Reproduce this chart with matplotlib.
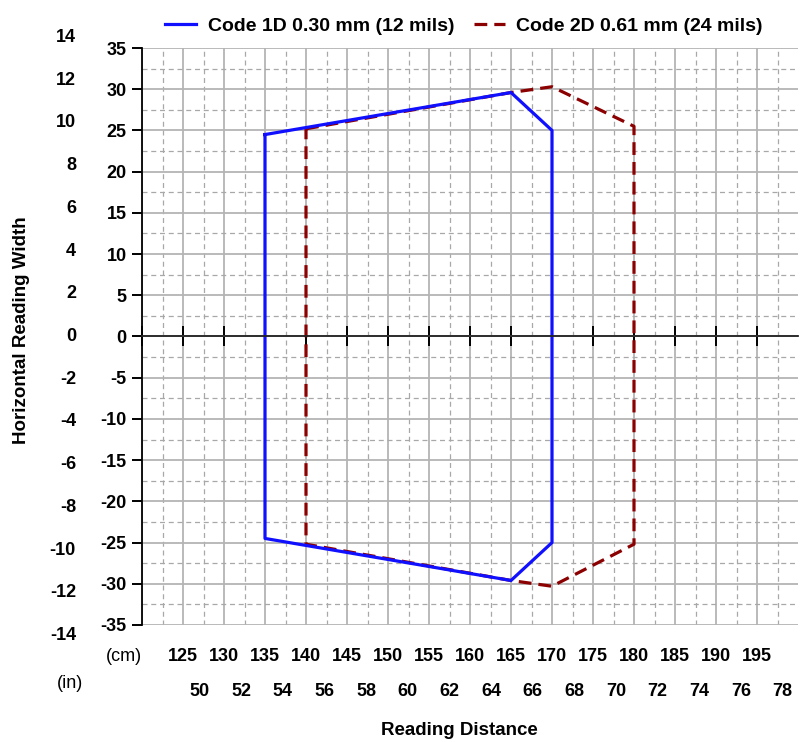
import numpy as np
import matplotlib
matplotlib.use("Agg")
import matplotlib.pyplot as plt
from matplotlib.transforms import blended_transform_factory

plt.rcParams['font.family'] = ['Liberation Sans', 'DejaVu Sans']
plt.rcParams['font.weight'] = 'bold'
plt.rcParams['axes.unicode_minus'] = False

# reading zones (cm)
code1d_x = [135, 165, 170, 170, 165, 135, 135]
code1d_y = [24.5, 29.6, 25, -25, -29.6, -24.5, 24.5]
code2d_x = [140, 165, 170, 180, 180, 170, 165, 140, 140]
code2d_y = [25.2, 29.6, 30.3, 25.5, -25.2, -30.3, -29.6, -25.2, 25.2]

cm_ticks = list(range(125, 200, 5))
in_ticks = list(range(50, 80, 2))
width_in_ticks = list(range(-14, 15, 2))
width_cm_ticks = list(range(-35, 36, 5))

fig = plt.figure(figsize=(8, 7.42), dpi=100)
ax = fig.add_axes([0.1775, 0.1577, 0.82, 0.7776])

ax.set_xlim(120, 200)
ax.set_ylim(-35, 35)

ax.set_xticks(np.arange(120, 200, 5))
ax.set_xticks(np.arange(122.5, 200, 5), minor=True)
ax.set_yticks(width_cm_ticks)
ax.set_yticks(np.arange(-32.5, 35, 5), minor=True)

ax.grid(which='major', color='#b4b4b4', lw=1.3, ls='-', zorder=0)
ax.grid(which='minor', color='#a8a8a8', lw=0.9, ls=(0, (4, 3)), zorder=0)

for s in ['top', 'right']:
    ax.spines[s].set_visible(False)
ax.spines['left'].set_color('black')
ax.spines['left'].set_linewidth(1.3)
ax.spines['bottom'].set_position(('data', 0))
ax.spines['bottom'].set_color('#222222')
ax.spines['bottom'].set_linewidth(1.3)
ax.spines['bottom'].set_zorder(5)

ax.tick_params(axis='x', which='major', direction='inout', length=15, width=1.4,
               labelbottom=False, color='black')
ax.tick_params(axis='y', which='major', direction='out', length=7, width=1.4,
               labelsize=13, pad=4)
ax.tick_params(which='minor', length=0)
for lbl in ax.get_yticklabels():
    lbl.set_fontweight('bold')

ax.plot(code2d_x, code2d_y, color='#8b0000', lw=2.3, dashes=(4, 2.2),
        label='Code 2D 0.61 mm (24 mils)', zorder=3)
ax.plot(code1d_x, code1d_y, color='#1010ff', lw=2.3,
        label='Code 1D 0.30 mm (12 mils)', zorder=4)

# inch scale on the left
tr_y = blended_transform_factory(fig.transFigure, ax.transData)
for v in width_in_ticks:
    ax.text(0.095, v * 2.54 * 1.02, str(v), transform=tr_y, ha='right', va='center',
            fontsize=13, fontweight='bold', clip_on=False)

# cm and inch scales below
tr_x = blended_transform_factory(ax.transData, fig.transFigure)
for v in cm_ticks:
    ax.text(v, 0.1146, str(v), transform=tr_x, ha='center', va='center',
            fontsize=13, fontweight='bold', clip_on=False)
for v in in_ticks:
    ax.text(v * 2.54, 0.0674, str(v), transform=tr_x, ha='center', va='center',
            fontsize=13, fontweight='bold', clip_on=False)
fig.text(0.155, 0.1146, '(cm)', ha='center', va='center', fontsize=13, fontweight='normal')
fig.text(0.0875, 0.0795, '(in)', ha='center', va='center', fontsize=13, fontweight='normal')

fig.text(0.574, 0.016, 'Reading Distance', ha='center', va='center', fontsize=13.5, fontweight='bold')
fig.text(0.0275, 0.555, 'Horizontal Reading Width', ha='center', va='center', rotation=90,
         fontsize=13.5, fontweight='bold')

h, l = ax.get_legend_handles_labels()
fig.legend(h[::-1], l[::-1], loc='upper center', bbox_to_anchor=(0.58, 1.0), ncol=2,
           frameon=False, prop={'size': 14, 'weight': 'bold'}, handlelength=1.6,
           columnspacing=1.0, handletextpad=0.6)

fig.savefig('out.png', dpi=100)
